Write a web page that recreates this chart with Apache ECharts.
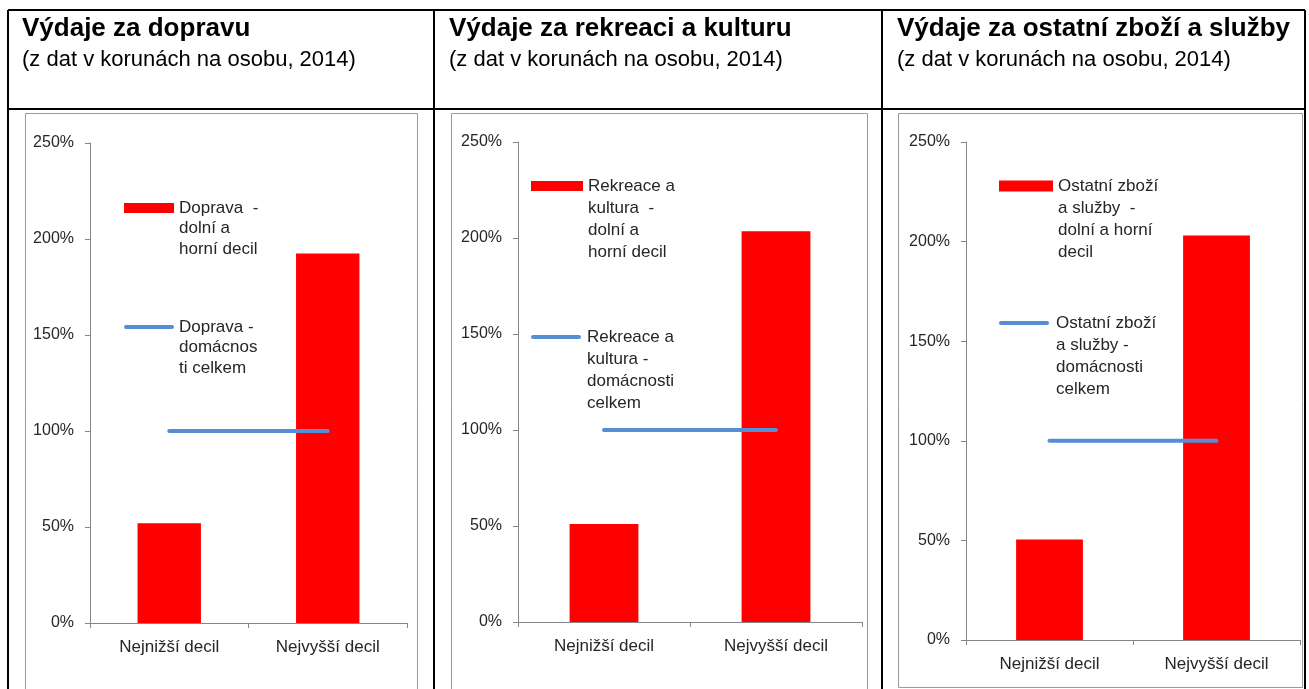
<!DOCTYPE html>
<html>
<head>
<meta charset="utf-8">
<title>Výdaje domácností podle decilů</title>
<script src="https://cdn.jsdelivr.net/npm/echarts@6/dist/echarts.min.js"></script>
<style>
	html, body { margin: 0; padding: 0; background: #fff; }
	#chart { width: 1309px; height: 689px; }
</style>
</head>
<body>
<div id="chart"></div>
<script>
// data
var kategorie = ['Nejnižší decil', 'Nejvyšší decil'];
var osaY = [0, 50, 100, 150, 200, 250];
var nadpisy = ['Výdaje za dopravu', 'Výdaje za rekreaci a kulturu', 'Výdaje za ostatní zboží a služby'];
var podnadpis = '(z dat v korunách na osobu, 2014)';

var decilyDoprava = [52, 192.5];
var decilyRekreace = [51, 203.5];
var decilyOstatni = [50.5, 203];
var celkemDoprava = [100, 100];
var celkemRekreace = [100, 100];
var celkemOstatni = [100, 100];

var nazvyDecily = ['Doprava - dolní a horní decil', 'Rekreace a kultura - dolní a horní decil', 'Ostatní zboží a služby - dolní a horní decil'];
var nazvyCelkem = ['Doprava - domácnosti celkem', 'Rekreace a kultura - domácnosti celkem', 'Ostatní zboží a služby - domácnosti celkem'];
var popiskyDecily = ['Doprava  -\ndolní a\nhorní decil', 'Rekreace a\nkultura  -\ndolní a\nhorní decil', 'Ostatní zboží\na služby  -\ndolní a horní\ndecil'];
var popiskyCelkem = ['Doprava -\ndomácnos\nti celkem', 'Rekreace a\nkultura -\ndomácnosti\ncelkem', 'Ostatní zboží\na služby -\ndomácnosti\ncelkem'];

var decily = [decilyDoprava, decilyRekreace, decilyOstatni];
var celkem = [celkemDoprava, celkemRekreace, celkemOstatni];

// layout of the three panels
var panely = [
	{ titleX: 22, frame: [25, 113, 392, 590], grid: [90, 143, 317, 480], legX: 124, legW: 50, legH: 10, lh: 20.5, barY: 208, lineY: 327 },
	{ titleX: 449, frame: [451, 113, 416, 590], grid: [518, 142, 344, 480], legX: 531, legW: 52, legH: 10, lh: 22, barY: 186, lineY: 337 },
	{ titleX: 897, frame: [898, 113, 404, 574], grid: [966, 142, 334, 498], legX: 999, legW: 54, legH: 11, lh: 22, barY: 186, lineY: 323 }
];

var textColor = '#262626';
var axisColor = '#868686';
var font = '"Liberation Sans", Arial, sans-serif';
var kapsle = 'path://M2,0 L48,0 A2,2 0 0 1 48,4 L2,4 A2,2 0 0 1 2,0 Z';

var chart = echarts.init(document.getElementById('chart'));

var popisky = {};
nazvyDecily.forEach(function (n, i) { popisky[n] = popiskyDecily[i]; });
nazvyCelkem.forEach(function (n, i) { popisky[n] = popiskyCelkem[i]; });

// legend text is centred on its icon, so pad it with empty lines on top
// to get the first line level with the icon (as in Excel)
function legenda(p, nazev, stredY, ikona, vyska) {
	var radky = popisky[nazev].split('\n').length;
	var prazdne = new Array(radky).join('\n');
	return {
		left: p.legX,
		top: stredY - (2 * radky - 1) * p.lh / 2,
		padding: 0,
		icon: ikona,
		itemWidth: p.legW,
		itemHeight: vyska,
		itemGap: 0,
		selectedMode: false,
		data: [nazev],
		formatter: function (name) { return prazdne + popisky[name]; },
		textStyle: {
			color: textColor,
			fontFamily: font,
			fontSize: 17,
			lineHeight: p.lh
		}
	};
}

var titles = [], grids = [], xAxes = [], yAxes = [], series = [], legends = [], graphics = [];

panely.forEach(function (p, i) {
	titles.push({
		left: p.titleX,
		top: 16,
		padding: 0,
		itemGap: 7,
		text: nadpisy[i],
		subtext: podnadpis,
		textStyle: { fontFamily: font, fontSize: 26, fontWeight: 'bold', color: '#000' },
		subtextStyle: { fontFamily: font, fontSize: 22, color: '#000' }
	});
	graphics.push({
		type: 'rect',
		shape: { x: p.frame[0] + 0.5, y: p.frame[1] + 0.5, width: p.frame[2], height: p.frame[3] },
		style: { fill: null, stroke: '#9a9a9a', lineWidth: 1 },
		z: -1
	});
	grids.push({ left: p.grid[0], top: p.grid[1], width: p.grid[2], height: p.grid[3] });
	xAxes.push({
		type: 'category',
		gridIndex: i,
		data: kategorie,
		axisLine: { lineStyle: { color: axisColor } },
		axisTick: { show: true, length: 5, lineStyle: { color: axisColor } },
		axisLabel: { margin: 16, color: textColor, fontFamily: font, fontSize: 17 }
	});
	yAxes.push({
		type: 'value',
		gridIndex: i,
		min: osaY[0],
		max: osaY[osaY.length - 1],
		interval: osaY[1] - osaY[0],
		axisLine: { show: true, lineStyle: { color: axisColor } },
		axisTick: { show: true, length: 5, lineStyle: { color: axisColor } },
		splitLine: { show: false },
		axisLabel: { margin: 16, color: textColor, fontFamily: font, fontSize: 16, formatter: '{value}%' }
	});
	series.push({
		name: nazvyDecily[i],
		type: 'bar',
		xAxisIndex: i,
		yAxisIndex: i,
		barWidth: '40%',
		itemStyle: { color: '#ff0000' },
		data: decily[i]
	});
	series.push({
		name: nazvyCelkem[i],
		type: 'line',
		xAxisIndex: i,
		yAxisIndex: i,
		symbol: 'none',
		lineStyle: { color: '#558ed5', width: 4, cap: 'round' },
		itemStyle: { color: '#558ed5' },
		data: celkem[i]
	});
	legends.push(legenda(p, nazvyDecily[i], p.barY, 'rect', p.legH));
	legends.push(legenda(p, nazvyCelkem[i], p.lineY, kapsle, 4));
});

// table borders
var cary = [
	[8, 10, 1305, 10],
	[8, 109, 1305, 109],
	[8, 10, 8, 689],
	[434, 10, 434, 689],
	[882, 10, 882, 689],
	[1305, 10, 1305, 689]
];
cary.forEach(function (c) {
	graphics.push({
		type: 'line',
		shape: { x1: c[0], y1: c[1], x2: c[2], y2: c[3] },
		style: { stroke: '#000', lineWidth: 2 },
		z: 10
	});
});

var option = {
	animation: false,
	backgroundColor: '#fff',
	title: titles,
	grid: grids,
	xAxis: xAxes,
	yAxis: yAxes,
	legend: legends,
	series: series,
	graphic: graphics
};
chart.setOption(option);
</script>
</body>
</html>
